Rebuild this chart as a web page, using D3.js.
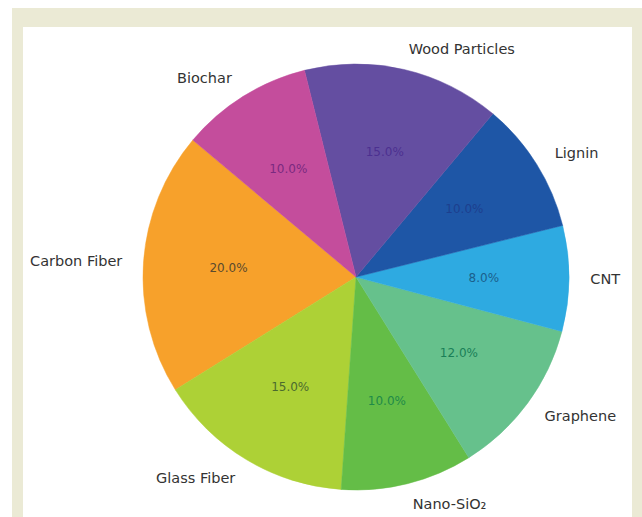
<!DOCTYPE html>
<html><head><meta charset="utf-8">
<script src="https://cdn.jsdelivr.net/npm/d3@7"></script>
<style>
html,body{margin:0;padding:0;background:#fff;overflow:hidden;}
#frame{position:absolute;left:12px;top:8px;width:630px;height:520px;background:#ebead5;}
#panel{position:absolute;left:11px;top:19px;width:609px;height:520px;background:#fff;}
svg{position:absolute;left:0;top:0;}
</style></head>
<body>
<div id="frame"><div id="panel"></div></div>
<svg id="chart" width="642" height="517"></svg>
<script>
const categories = ["Carbon Fiber","Glass Fiber","Nano-SiO\u2082","Graphene","CNT","Lignin","Wood Particles","Biochar"];
const values = [20,15,10,12,8,10,15,10];
const colors = ["#f7a12b","#add136","#64bd47","#66c18c","#2eaae1","#1e56a6","#644ea1","#c44d9c"];
const pctColors = ["#5a4a2e","#4b6a2e","#1f8a48","#1a7f58","#1b5f8c","#1d3f8e","#4c3090","#7a2a80"];
const startAngleDeg = 140;

const svg = d3.select("#chart");
const cx = 356, cy = 277, r = 213;
const g = svg.append("g").attr("transform",`translate(${cx},${cy})`);

const data = categories.map((c,i)=>({label:c,value:values[i],color:colors[i],pc:pctColors[i]}));
const total = d3.sum(values);
const toD3 = a => (90 - a) * Math.PI/180;
const pie = d3.pie().value(d=>d.value).sort(null)
  .startAngle(toD3(startAngleDeg)).endAngle(toD3(startAngleDeg) - 2*Math.PI);
const arcs = pie(data);
const arc = d3.arc().innerRadius(0).outerRadius(r);

g.selectAll("path.slice").data(arcs).enter().append("path")
  .attr("d",arc).attr("fill",d=>d.data.color)
  .attr("stroke",d=>d.data.color).attr("stroke-width",0.5);

const mid = d => (d.startAngle + d.endAngle)/2;
g.selectAll("text.lab").data(arcs).enter().append("text")
  .attr("x",d=>Math.sin(mid(d))*r*1.1)
  .attr("y",d=>-Math.cos(mid(d))*r*1.1)
  .attr("text-anchor",d=>Math.sin(mid(d))>0?"start":"end")
  .attr("dominant-baseline","central")
  .attr("font-family","DejaVu Sans, sans-serif").attr("font-size",14.5)
  .attr("fill","#333").text(d=>d.data.label);

g.selectAll("text.pct").data(arcs).enter().append("text")
  .attr("x",d=>Math.sin(mid(d))*r*0.6)
  .attr("y",d=>-Math.cos(mid(d))*r*0.6)
  .attr("text-anchor","middle").attr("dominant-baseline","central")
  .attr("font-family","DejaVu Sans, sans-serif").attr("font-size",12)
  .attr("fill",d=>d.data.pc)
  .text(d=>(d.data.value/total*100).toFixed(1)+"%");
</script>
</body></html>
